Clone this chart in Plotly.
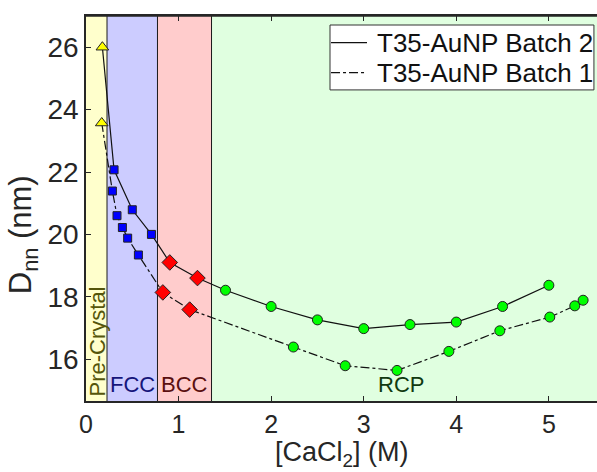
import plotly.graph_objects as go

# [CaCl2] (M) and nearest-neighbour distance D_nn (nm) for each batch, split by phase
b2_pre_x = [0.177]
b2_pre_y = [26.0]
b2_fcc_x = [0.303, 0.50, 0.707]
b2_fcc_y = [22.07, 20.79, 20.0]
b2_bcc_x = [0.905, 1.204]
b2_bcc_y = [19.10, 18.60]
b2_rcp_x = [1.507, 2.0, 2.5, 3.0, 3.5, 4.0, 4.5, 5.0]
b2_rcp_y = [18.21, 17.69, 17.26, 16.98, 17.11, 17.19, 17.69, 18.37]

b1_pre_x = [0.17]
b1_pre_y = [23.57]
b1_fcc_x = [0.285, 0.335, 0.393, 0.45, 0.566]
b1_fcc_y = [21.39, 20.60, 20.22, 19.88, 19.34]
b1_bcc_x = [0.83, 1.12]
b1_bcc_y = [18.14, 17.59]
b1_rcp_x = [2.24, 2.80, 3.36, 3.92, 4.47, 5.01, 5.28, 5.37]
b1_rcp_y = [16.39, 15.79, 15.64, 16.25, 16.91, 17.35, 17.71, 17.89]

series_names = ["T35-AuNP Batch 2", "T35-AuNP Batch 1"]
series_dash = ["solid", "dashdot"]

# phase region boundaries along the concentration axis
region_edges = [0.0, 0.227, 0.772, 1.356, 5.52]
region_colors = ["#FFFFCC", "#CCCCFF", "#FFCCCC", "#E0FFE0"]
region_names = ["Pre-Crystal", "FCC", "BCC", "RCP"]
region_text_colors = ["#55550A", "#15157A", "#5A1010", "#103A10"]
region_label_x = [None, None, None, 3.40]

phase_marker = {
    "pre": dict(symbol="triangle-up", color="#FFFF00", size=11),
    "fcc": dict(symbol="square", color="#0000FF", size=8),
    "bcc": dict(symbol="diamond", color="#FF0000", size=12),
    "rcp": dict(symbol="circle", color="#00FF00", size=10),
}

fig = go.Figure()

# background phase bands
for i, col in enumerate(region_colors):
    fig.add_shape(type="rect", xref="x", yref="paper",
                  x0=region_edges[i], x1=region_edges[i + 1], y0=0, y1=1,
                  fillcolor=col, line=dict(width=0), layer="below")
for xe in region_edges[1:-1]:
    fig.add_shape(type="line", xref="x", yref="paper", x0=xe, x1=xe, y0=0, y1=1,
                  line=dict(color="#1a1a1a", width=1), layer="below")

batches = [
    [(b2_pre_x, b2_pre_y, "pre"), (b2_fcc_x, b2_fcc_y, "fcc"),
     (b2_bcc_x, b2_bcc_y, "bcc"), (b2_rcp_x, b2_rcp_y, "rcp")],
    [(b1_pre_x, b1_pre_y, "pre"), (b1_fcc_x, b1_fcc_y, "fcc"),
     (b1_bcc_x, b1_bcc_y, "bcc"), (b1_rcp_x, b1_rcp_y, "rcp")],
]

for name, dash, parts in zip(series_names, series_dash, batches):
    xs = [v for p in parts for v in p[0]]
    ys = [v for p in parts for v in p[1]]
    fig.add_trace(go.Scatter(x=xs, y=ys, mode="lines", name=name, showlegend=False,
                             line=dict(color="#111111", width=1.2, dash=dash)))
    for px_, py_, ph in parts:
        m = phase_marker[ph]
        fig.add_trace(go.Scatter(x=px_, y=py_, mode="markers", showlegend=False,
                                 marker=dict(symbol=m["symbol"], color=m["color"], size=m["size"],
                                             line=dict(color="#222222", width=1))))

# phase labels
for i, name in enumerate(region_names):
    lx = region_label_x[i]
    if lx is None:
        lx = (region_edges[i] + region_edges[i + 1]) / 2
    fig.add_annotation(x=lx, y=0.0, xref="x", yref="paper",
                       text=name, textangle=-90 if i == 0 else 0, showarrow=False,
                       xanchor="center", yanchor="bottom", yshift=2,
                       font=dict(size=22, color=region_text_colors[i]))

# boxed legend in the upper right: line sample + series name per row
leg_x0, leg_x1, leg_y0, leg_y1 = 0.4775, 0.994, 0.808, 0.9766
fig.add_shape(type="rect", xref="paper", yref="paper",
              x0=leg_x0, x1=leg_x1, y0=leg_y0, y1=leg_y1,
              fillcolor="white", line=dict(color="#333333", width=1))
row_y = [0.931, 0.853]
for name, dash, ry in zip(series_names, series_dash, row_y):
    fig.add_shape(type="line", xref="paper", yref="paper",
                  x0=0.4795, x1=0.5499, y0=ry, y1=ry,
                  line=dict(color="#111111", width=1.2, dash=dash))
    fig.add_annotation(x=0.5656, y=ry, xref="paper", yref="paper", text=name,
                       showarrow=False, xanchor="left", yanchor="middle",
                       font=dict(size=26, color="#111111"))

axis_color = "#262626"

# axis titles
fig.add_annotation(x=0.5, y=-0.138, xref="paper", yref="paper",
                   text="[CaCl<sub>2</sub>] (M)", showarrow=False,
                   xanchor="center", yanchor="middle",
                   font=dict(size=27, color=axis_color))
fig.add_annotation(x=-0.123, y=0.431, xref="paper", yref="paper",
                   text="D<sub>nn</sub> (nm)", showarrow=False, textangle=-90,
                   xanchor="center", yanchor="middle",
                   font=dict(size=31, color=axis_color))

fig.update_layout(
    width=597, height=472,
    margin=dict(l=86, r=0, t=16, b=71),
    paper_bgcolor="white", plot_bgcolor="white",
    font=dict(family="Liberation Sans, Arial, sans-serif", color=axis_color),
    showlegend=False,
    xaxis=dict(range=[0, 5.52], tickvals=[0, 1, 2, 3, 4, 5],
               ticks="inside", ticklen=5, tickcolor=axis_color, mirror="ticks",
               showline=True, linecolor=axis_color, linewidth=1.5,
               showgrid=False, zeroline=False,
               tickfont=dict(size=25, color=axis_color)),
    yaxis=dict(range=[14.66, 27], tickvals=[16, 18, 20, 22, 24, 26],
               ticks="inside", ticklen=5, tickcolor=axis_color,
               showline=True, linecolor=axis_color, linewidth=1.5,
               showgrid=False, zeroline=False,
               tickfont=dict(size=28, color=axis_color)),
)
# top border of the axes box
fig.add_shape(type="line", xref="paper", yref="paper", x0=0, x1=1, y0=1, y1=1,
              line=dict(color=axis_color, width=1.5))

fig.write_html("out.html")
